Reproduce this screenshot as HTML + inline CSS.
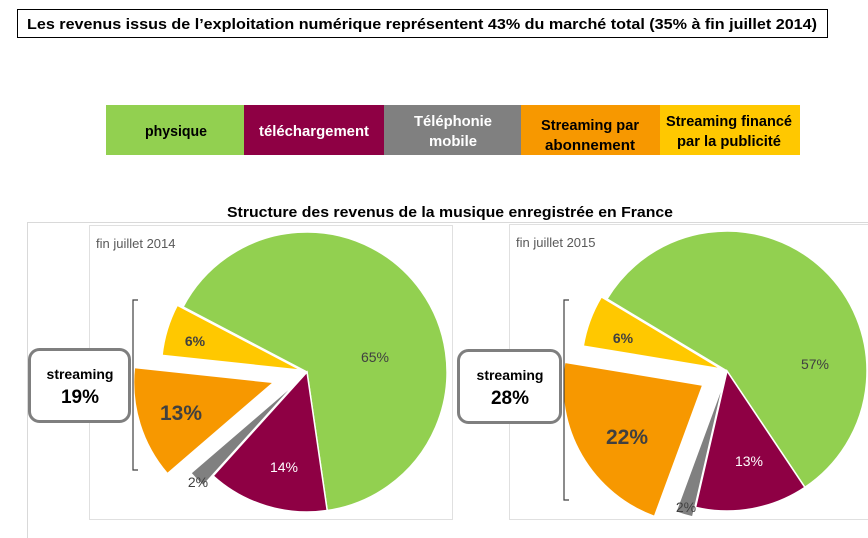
<!DOCTYPE html>
<html><head><meta charset="utf-8"><style>
html,body{margin:0;padding:0;background:#fff;}
svg{display:block;font-family:"Liberation Sans",sans-serif;}
</style></head><body>
<svg id="s" width="868" height="538" viewBox="0 0 868 538" xmlns="http://www.w3.org/2000/svg">
<rect x="17.5" y="9.5" width="810" height="28" fill="#fff" stroke="#000" stroke-width="1"/>
<text x="27" y="29" font-size="15" font-weight="bold" textLength="790" lengthAdjust="spacingAndGlyphs">Les revenus issus de l’exploitation numérique représentent 43% du marché total  (35% à fin juillet 2014)</text>
<rect x="106" y="105" width="138" height="50" fill="#92d050"/>
<rect x="244" y="105" width="140" height="50" fill="#8e0044"/>
<rect x="384" y="105" width="137" height="50" fill="#808080"/>
<rect x="521" y="105" width="139" height="50" fill="#f79800"/>
<rect x="660" y="105" width="140" height="50" fill="#ffc800"/>
<g font-size="15" font-weight="bold" text-anchor="middle">
<text x="176" y="136" textLength="62" lengthAdjust="spacingAndGlyphs">physique</text>
<text x="314" y="136" fill="#fff" textLength="110" lengthAdjust="spacingAndGlyphs">téléchargement</text>
<text x="453" y="126" fill="#fff" textLength="78" lengthAdjust="spacingAndGlyphs">Téléphonie</text>
<text x="453" y="146" fill="#fff" textLength="48" lengthAdjust="spacingAndGlyphs">mobile</text>
<text x="590" y="130" textLength="98" lengthAdjust="spacingAndGlyphs">Streaming par</text>
<text x="590" y="150" textLength="90" lengthAdjust="spacingAndGlyphs">abonnement</text>
<text x="729" y="126" textLength="126" lengthAdjust="spacingAndGlyphs">Streaming financé</text>
<text x="729" y="146" textLength="104" lengthAdjust="spacingAndGlyphs">par la publicité</text>
</g>
<text x="450" y="217" font-size="15" font-weight="bold" text-anchor="middle" textLength="446" lengthAdjust="spacingAndGlyphs">Structure des revenus de la musique enregistrée en France</text>
<line x1="27" y1="222.5" x2="868" y2="222.5" stroke="#d9d9d9"/>
<line x1="27.5" y1="222" x2="27.5" y2="538" stroke="#d9d9d9"/>
<rect x="89.5" y="225.5" width="363" height="294" fill="#fff" stroke="#e0e0e0"/>
<rect x="509.5" y="224.5" width="362" height="295" fill="#fff" stroke="#e0e0e0"/>
<text x="96" y="248" font-size="13" fill="#595959">fin juillet 2014</text>
<text x="516" y="247" font-size="13" fill="#595959">fin juillet 2015</text>
<g id="p1"></g><g id="p2"></g>
<path d="M138,300 H133 V470 H138" fill="none" stroke="#404040" stroke-width="1.2"/>
<path d="M569,300 H564 V500 H569" fill="none" stroke="#404040" stroke-width="1.2"/>
<rect x="29.5" y="349.5" width="100" height="72" rx="10" fill="#fff" stroke="#7f7f7f" stroke-width="3"/>
<rect x="458.5" y="350.5" width="102" height="72" rx="10" fill="#fff" stroke="#7f7f7f" stroke-width="3"/>
<g font-weight="bold" text-anchor="middle">
<text x="80" y="379" font-size="14">streaming</text>
<text x="80" y="403" font-size="19">19%</text>
<text x="510" y="380" font-size="14">streaming</text>
<text x="510" y="404" font-size="19">28%</text>
</g>
<g font-size="14" text-anchor="middle" fill="#404040">
<text x="375" y="362">65%</text>
<text x="284" y="472" fill="#fff">14%</text>
<text x="198" y="487">2%</text>
<text x="181" y="420" font-size="21" font-weight="bold">13%</text>
<text x="195" y="346" font-weight="bold">6%</text>
<text x="815" y="369">57%</text>
<text x="749" y="466" fill="#fff">13%</text>
<text x="686" y="512">2%</text>
<text x="627" y="444" font-size="21" font-weight="bold">22%</text>
<text x="623" y="343" font-weight="bold">6%</text>
</g>
</svg>
<script>
function pie(id,cx,cy,r,start,slices){
  var g=document.getElementById(id),a=start,h='';
  slices.forEach(function(s){
    var sp=s[0]*3.6, mid=(a+sp/2)*Math.PI/180;
    var ox=cx+Math.sin(mid)*s[2], oy=cy-Math.cos(mid)*s[2];
    var a1=a*Math.PI/180,a2=(a+sp)*Math.PI/180;
    var x1=ox+r*Math.sin(a1),y1=oy-r*Math.cos(a1),x2=ox+r*Math.sin(a2),y2=oy-r*Math.cos(a2);
    h+='<path d="M'+ox+','+oy+' L'+x1+','+y1+' A'+r+','+r+' 0 '+(sp>180?1:0)+' 1 '+x2+','+y2+' Z" fill="'+s[1]+'" stroke="#fff" stroke-width="1.5"/>';
    a+=sp;
  });
  g.innerHTML=h;
}
pie('p1',307,372,140,297.7,[[65,'#92d050',0],[14,'#8e0044',0],[2,'#808080',14],[13,'#f79800',35],[6,'#ffc800',6]]);
pie('p2',727,371,140,301,[[57,'#92d050',0],[13,'#8e0044',0],[2,'#808080',10],[22,'#f79800',28],[6,'#ffc800',6]]);
</script>
</body></html>
